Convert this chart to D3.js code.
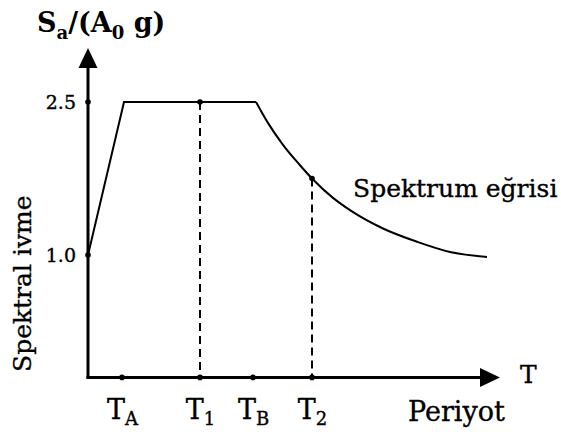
<!DOCTYPE html>
<html>
<head>
<meta charset="utf-8">
<script src="https://cdn.jsdelivr.net/npm/d3@7"></script>
<style>
  body { margin: 0; background: #fff; }
  svg text { font-family: "DejaVu Serif", serif; fill: #000; stroke: #000; stroke-width: 0.35px; }
</style>
</head>
<body>
<svg class="chart"></svg>
<script>
// spectrum curve (period T, Sa/(A0 g))
var periods  = [0, 0.36, 1.68, 1.79, 1.95, 2.12, 2.24, 2.45, 2.62, 2.95, 3.29, 3.62, 3.99];
var spectrum = [1.0, 2.5, 2.5, 2.31, 2.08, 1.88, 1.75, 1.56, 1.44, 1.26, 1.13, 1.03, 0.98];

var yTicks = [1.0, 2.5];
var xTickPeriods = [0.34, 1.12, 1.65, 2.24];
var xTickNames = ["T", "T", "T", "T"];
var xTickSubs = ["A", "1", "B", "2"];

// marked points (T1 on plateau, T2 on the curve)
var markPeriods = [1.12, 2.24];
var markValues = [2.5, 1.75];

var width = 561, height = 432;

var svg = d3.select("svg.chart")
            .attr("width", width)
            .attr("height", height);

var xScale = d3.scaleLinear()
               .domain([0, 4.12])
               .range([88, 500]);
var yScale = d3.scaleLinear()
               .domain([0, 2.5])
               .range([357, 102]);

var x0 = xScale(0);
var yBase = yScale(-0.2);
var yTop = yScale(3.03);
var xEnd = xScale(4.12);

// axes lines with arrow heads
svg.append("line")
   .attr("x1", x0).attr("y1", yBase + 1.5)
   .attr("x2", x0).attr("y2", yTop + 18)
   .attr("stroke", "#000").attr("stroke-width", 3);
svg.append("line")
   .attr("x1", x0 - 1.5).attr("y1", yBase)
   .attr("x2", xEnd - 18).attr("y2", yBase)
   .attr("stroke", "#000").attr("stroke-width", 3);
svg.append("path")
   .attr("d", "M" + x0 + "," + yTop + "L" + (x0 - 9.5) + "," + (yTop + 20) + "L" + (x0 + 9.5) + "," + (yTop + 20) + "Z")
   .attr("fill", "#000");
svg.append("path")
   .attr("d", "M" + xEnd + "," + yBase + "L" + (xEnd - 20) + "," + (yBase - 9.5) + "L" + (xEnd - 20) + "," + (yBase + 9.5) + "Z")
   .attr("fill", "#000");

// y axis tick labels
var yAxis = d3.axisLeft(yScale)
              .tickValues(yTicks)
              .tickFormat(d3.format(".1f"))
              .tickSize(0)
              .tickPadding(12);
var gy = svg.append("g")
            .attr("transform", "translate(" + x0 + ",0)")
            .call(yAxis);
gy.select(".domain").remove();
gy.selectAll("text")
  .attr("font-size", 19)
  .style("font-family", "DejaVu Serif");

// x axis tick labels with subscripts
var xAxis = d3.axisBottom(xScale)
              .tickValues(xTickPeriods)
              .tickSize(0)
              .tickFormat("");
var gx = svg.append("g")
            .attr("transform", "translate(0," + yBase + ")")
            .call(xAxis);
gx.select(".domain").remove();
gx.selectAll("text")
  .attr("y", 42)
  .attr("dy", null)
  .attr("font-size", 27)
  .style("font-family", "DejaVu Serif")
  .each(function(d, i) {
    var t = d3.select(this);
    t.append("tspan").text(xTickNames[i]);
    t.append("tspan").attr("font-size", 18).attr("dy", 6).text(xTickSubs[i]);
  });

// tick dots on the axes
svg.selectAll("circle.xdot")
   .data(xTickPeriods)
   .enter()
   .append("circle")
   .attr("class", "xdot")
   .attr("cx", function(d) { return xScale(d); })
   .attr("cy", yBase)
   .attr("r", 2.8)
   .attr("fill", "#000");
svg.selectAll("circle.ydot")
   .data(yTicks)
   .enter()
   .append("circle")
   .attr("class", "ydot")
   .attr("cx", x0)
   .attr("cy", function(d) { return yScale(d); })
   .attr("r", 2.8)
   .attr("fill", "#000");

// dashed guide lines
svg.selectAll("line.guide")
   .data(markPeriods)
   .enter()
   .append("line")
   .attr("class", "guide")
   .attr("x1", function(d) { return xScale(d); })
   .attr("x2", function(d) { return xScale(d); })
   .attr("y1", function(d, i) { return yScale(markValues[i]); })
   .attr("y2", yBase)
   .attr("stroke", "#000")
   .attr("stroke-width", 2)
   .attr("stroke-dasharray", "8,5");

// spectrum curve: straight rise + plateau, then smooth decay
var pts = periods.map(function(p, i) { return [p, spectrum[i]]; });
var straight = d3.line()
                 .x(function(d) { return xScale(d[0]); })
                 .y(function(d) { return yScale(d[1]); });
var smooth = d3.line()
               .curve(d3.curveMonotoneX)
               .x(function(d) { return xScale(d[0]); })
               .y(function(d) { return yScale(d[1]); });
svg.append("path")
   .attr("d", straight(pts.slice(0, 3)))
   .attr("fill", "none").attr("stroke", "#000").attr("stroke-width", 2);
svg.append("path")
   .attr("d", smooth(pts.slice(2)))
   .attr("fill", "none").attr("stroke", "#000").attr("stroke-width", 2);

svg.selectAll("circle.mark")
   .data(markPeriods)
   .enter()
   .append("circle")
   .attr("class", "mark")
   .attr("cx", function(d) { return xScale(d); })
   .attr("cy", function(d, i) { return yScale(markValues[i]); })
   .attr("r", 2.8)
   .attr("fill", "#000");

// title
var title = svg.append("text")
               .attr("x", 37).attr("y", 32)
               .attr("font-size", 27)
               .attr("font-weight", "bold")
               .style("stroke-width", 0);
title.append("tspan").text("S");
title.append("tspan").attr("font-size", 18).attr("dy", 7).text("a");
title.append("tspan").attr("dy", -7).text("/(A");
title.append("tspan").attr("font-size", 18).attr("dy", 7).text("0");
title.append("tspan").attr("dy", -7).text(" g)");

// other labels
svg.append("text")
   .attr("transform", "translate(31,372) rotate(-90)")
   .attr("font-size", 25)
   .text("Spektral ivme");
svg.append("text")
   .attr("x", 353).attr("y", 197)
   .attr("font-size", 25)
   .text("Spektrum eğrisi");
svg.append("text")
   .attr("x", 520).attr("y", 383)
   .attr("font-size", 25)
   .text("T");
svg.append("text")
   .attr("x", 408).attr("y", 421)
   .attr("font-size", 27)
   .text("Periyot");
</script>
</body>
</html>
